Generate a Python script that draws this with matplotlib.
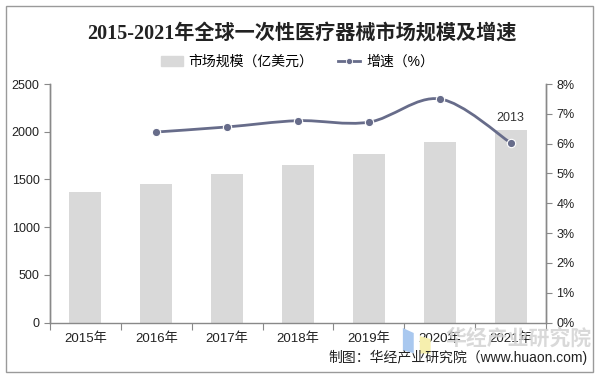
import matplotlib
matplotlib.use('Agg')
from matplotlib import pyplot as plt
from matplotlib.path import Path
from matplotlib.patches import PathPatch, Rectangle, Polygon
import numpy as np

plt.rcParams['font.family'] = ['Liberation Sans', 'Noto Sans CJK SC', 'DejaVu Sans']

years = ['2015年', '2016年', '2017年', '2018年', '2019年', '2020年', '2021年']
market = [1365, 1455, 1555, 1655, 1765, 1895, 2013]
growth = [None, 6.39, 6.56, 6.77, 6.72, 7.50, 6.03]
title = '2015-2021年全球一次性医疗器械市场规模及增速'
source = '制图：华经产业研究院（www.huaon.com)'
watermark = '华经产业研究院'

bar_color = '#d9d9d9'
line_color = '#676c8a'
axis_color = '#898989'

fig = plt.figure(figsize=(6.04, 3.81), dpi=100)
ax = fig.add_axes([0.0828, 0.1535, 0.8212, 0.626])
ax2 = ax.twinx()

x = np.arange(len(years))
ax.bar(x, market, width=0.45, color=bar_color, zorder=1)
ax.set_xlim(-0.5, len(years) - 0.5)
ax.set_ylim(0, 2500)
ax.set_yticks(range(0, 2501, 500))
ax2.set_ylim(0, 8)
ax2.set_yticks(range(0, 9))
ax2.set_yticklabels(['%d%%' % v for v in range(0, 9)])

# smooth line through the growth points (bezier, like excel smoothing)
gx = [i for i, g in enumerate(growth) if g is not None]
gy = [g for g in growth if g is not None]
pts = np.column_stack([gx, gy]).astype(float)
verts = [pts[0]]
codes = [Path.MOVETO]
n = len(pts)
for i in range(n - 1):
    p0 = pts[i - 1] if i > 0 else pts[i]
    p1 = pts[i]
    p2 = pts[i + 1]
    p3 = pts[i + 2] if i + 2 < n else pts[i + 1]
    c1 = p1 + (p2 - p0) / 6.0
    c2 = p2 - (p3 - p1) / 6.0
    verts += [c1, c2, p2]
    codes += [Path.CURVE4] * 3
ax2.add_patch(PathPatch(Path(verts, codes), facecolor='none',
                        edgecolor=line_color, lw=2.0, zorder=3))
ax2.plot(gx, gy, linestyle='none', marker='o', ms=6, color=line_color,
         markeredgecolor='white', markeredgewidth=0.8, zorder=4)

ax.text(x[-1], market[-1] + 70, str(market[-1]), ha='center', va='bottom',
        fontsize=9, color='#333333')

for a in (ax, ax2):
    a.spines['top'].set_visible(False)
    for s in ('left', 'right', 'bottom'):
        a.spines[s].set_color(axis_color)
        a.spines[s].set_linewidth(1.0)
    a.tick_params(colors=axis_color, labelcolor='#222222', labelsize=9,
                  length=4, width=0.8)
ax2.spines['bottom'].set_visible(False)

ax.set_xticks(x)
ax.set_xticklabels(years, fontsize=9.5)
ax.tick_params(axis='x', length=0, pad=7)
ax.set_xticks(np.arange(-0.5, len(years)), minor=True)
ax.tick_params(axis='x', which='minor', length=5, color=axis_color, width=0.8)

fig.text(0.5, 0.913, title, ha='center', va='center', fontsize=14.5,
         fontweight='bold', family=['Liberation Serif', 'Noto Sans CJK SC'],
         color='#222222')

leg_handles = [Rectangle((0, 0), 1, 1, color=bar_color),
               plt.Line2D([], [], color=line_color, lw=2, marker='o', ms=4.5,
                          markeredgecolor='white', markeredgewidth=0.6)]
fig.legend(leg_handles, ['市场规模（亿美元）', '增速（%）'], loc='center',
           bbox_to_anchor=(0.492, 0.838), ncol=2, frameon=False, fontsize=10,
           handlelength=1.6, columnspacing=1.8, handletextpad=0.4)

# watermark logo and text
fig.patches.append(Polygon([(0.667, 0.139), (0.685, 0.126), (0.685, 0.073),
                            (0.667, 0.080)], closed=True, transform=fig.transFigure,
                           facecolor='#a9c8ef', edgecolor='none', zorder=0))
fig.patches.append(Polygon([(0.695, 0.118), (0.713, 0.110), (0.713, 0.072),
                            (0.695, 0.072)], closed=True, transform=fig.transFigure,
                           facecolor='#f6efae', edgecolor='none', zorder=0))
fig.text(0.858, 0.113, watermark, ha='center', va='center',
         fontsize=15, color='#d3d3d3', fontweight='bold', alpha=0.85, zorder=0)
fig.text(0.973, 0.062, source, ha='right', va='center', fontsize=10,
         color='#222222')

fig.patches.append(Rectangle((0.0099, 0.0236), 0.972, 0.961,
                             transform=fig.transFigure, fill=False,
                             edgecolor='#9a9a9a', lw=1.0))

fig.savefig('out.png', dpi=100)
